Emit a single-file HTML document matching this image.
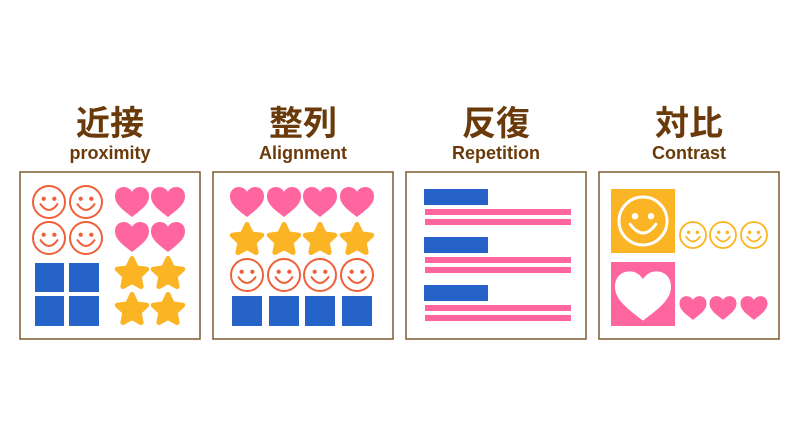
<!DOCTYPE html>
<html><head><meta charset="utf-8"><style>
html,body{margin:0;padding:0;background:#fff;}
svg{display:block;}
.t{font-family:"Liberation Sans","Noto Sans CJK JP",sans-serif;font-weight:bold;fill:#6b3a0a;text-anchor:middle;}
</style></head><body>
<svg id="s" width="800" height="430" viewBox="0 0 800 430" xmlns="http://www.w3.org/2000/svg">
<text class="t" x="110" y="135" font-size="34">近接</text>
<text class="t" x="110" y="159" font-size="18">proximity</text>
<text class="t" x="303" y="135" font-size="34">整列</text>
<text class="t" x="303" y="159" font-size="18">Alignment</text>
<text class="t" x="496" y="135" font-size="34">反復</text>
<text class="t" x="496" y="159" font-size="18">Repetition</text>
<text class="t" x="689" y="135" font-size="34">対比</text>
<text class="t" x="689" y="159" font-size="18">Contrast</text>
<g fill="#fff" stroke="#7a5a30" stroke-width="1.5">
<rect x="20" y="172" width="180" height="167"/>
<rect x="213" y="172" width="180" height="167"/>
<rect x="406" y="172" width="180" height="167"/>
<rect x="599" y="172" width="180" height="167"/>
</g>
<g id="g"></g>
</svg>
<script>
var g=document.getElementById('g'),h='';
var O='#f06038',P='#ff66a0',Y='#fbb423',B='#2563c9';
function smile(cx,cy,r,c,w){var k=r/15;
h+='<circle cx="'+cx+'" cy="'+cy+'" r="'+r+'" fill="none" stroke="'+c+'" stroke-width="'+w+'"/>';
h+='<circle cx="'+(cx-5*k)+'" cy="'+(cy-3*k)+'" r="'+(2*k)+'" fill="'+c+'"/><circle cx="'+(cx+5*k)+'" cy="'+(cy-3*k)+'" r="'+(2*k)+'" fill="'+c+'"/>';
h+='<path d="M'+(cx-8*k)+','+(cy+2*k)+' Q'+cx+','+(cy+13*k)+' '+(cx+8*k)+','+(cy+2*k)+'" fill="none" stroke="'+c+'" stroke-width="'+w+'" stroke-linecap="round"/>';}
function heart(cx,cy,wd,c){var s=wd/100;
h+='<path transform="translate('+(cx-wd/2)+','+(cy-44*s)+') scale('+s+')" d="M50,88 C20,65 0,50 0,27 C0,10 12,0 26,0 C37,0 45,6 50,14 C55,6 63,0 74,0 C88,0 100,10 100,27 C100,50 80,65 50,88 Z" fill="'+c+'"/>';}
function star(cx,cy){var p=[];for(var i=0;i<10;i++){var r=i%2?7.5:15.5,a=-Math.PI/2+i*Math.PI/5;p.push((cx+r*Math.cos(a)).toFixed(1)+','+(cy+2+r*Math.sin(a)).toFixed(1));}
h+='<polygon points="'+p.join(' ')+'" fill="'+Y+'" stroke="'+Y+'" stroke-width="5" stroke-linejoin="round"/>';}
function sq(x,y,w,hh,c){h+='<rect x="'+x+'" y="'+y+'" width="'+w+'" height="'+hh+'" fill="'+c+'"/>';}
[49,86].forEach(function(x){[202,238].forEach(function(y){smile(x,y,16,O,2);});});
[132,168].forEach(function(x){[202,237].forEach(function(y){heart(x,y,34,P);});});
sq(35,263,29,29,B);sq(69,263,30,29,B);sq(35,296,29,30,B);sq(69,296,30,30,B);
[132,168].forEach(function(x){[272,308].forEach(function(y){star(x,y);});});
[247,284,320,357].forEach(function(x){heart(x,202,34,P);star(x,238);smile(x,275,16,O,2);sq(x-15,296,30,30,B);});
[189,237,285].forEach(function(y){sq(424,y,64,16,B);sq(425,y+20,146,6,P);sq(425,y+30,146,6,P);});
sq(611,189,64,64,Y);smile(643,221,24,'#fff',3);
[693,723,754].forEach(function(x){smile(x,235,13,Y,1.8);heart(x,308,27,P);});
sq(611,262,64,64,P);heart(643,296,56,'#fff');
g.innerHTML=h;
</script>
</body></html>
